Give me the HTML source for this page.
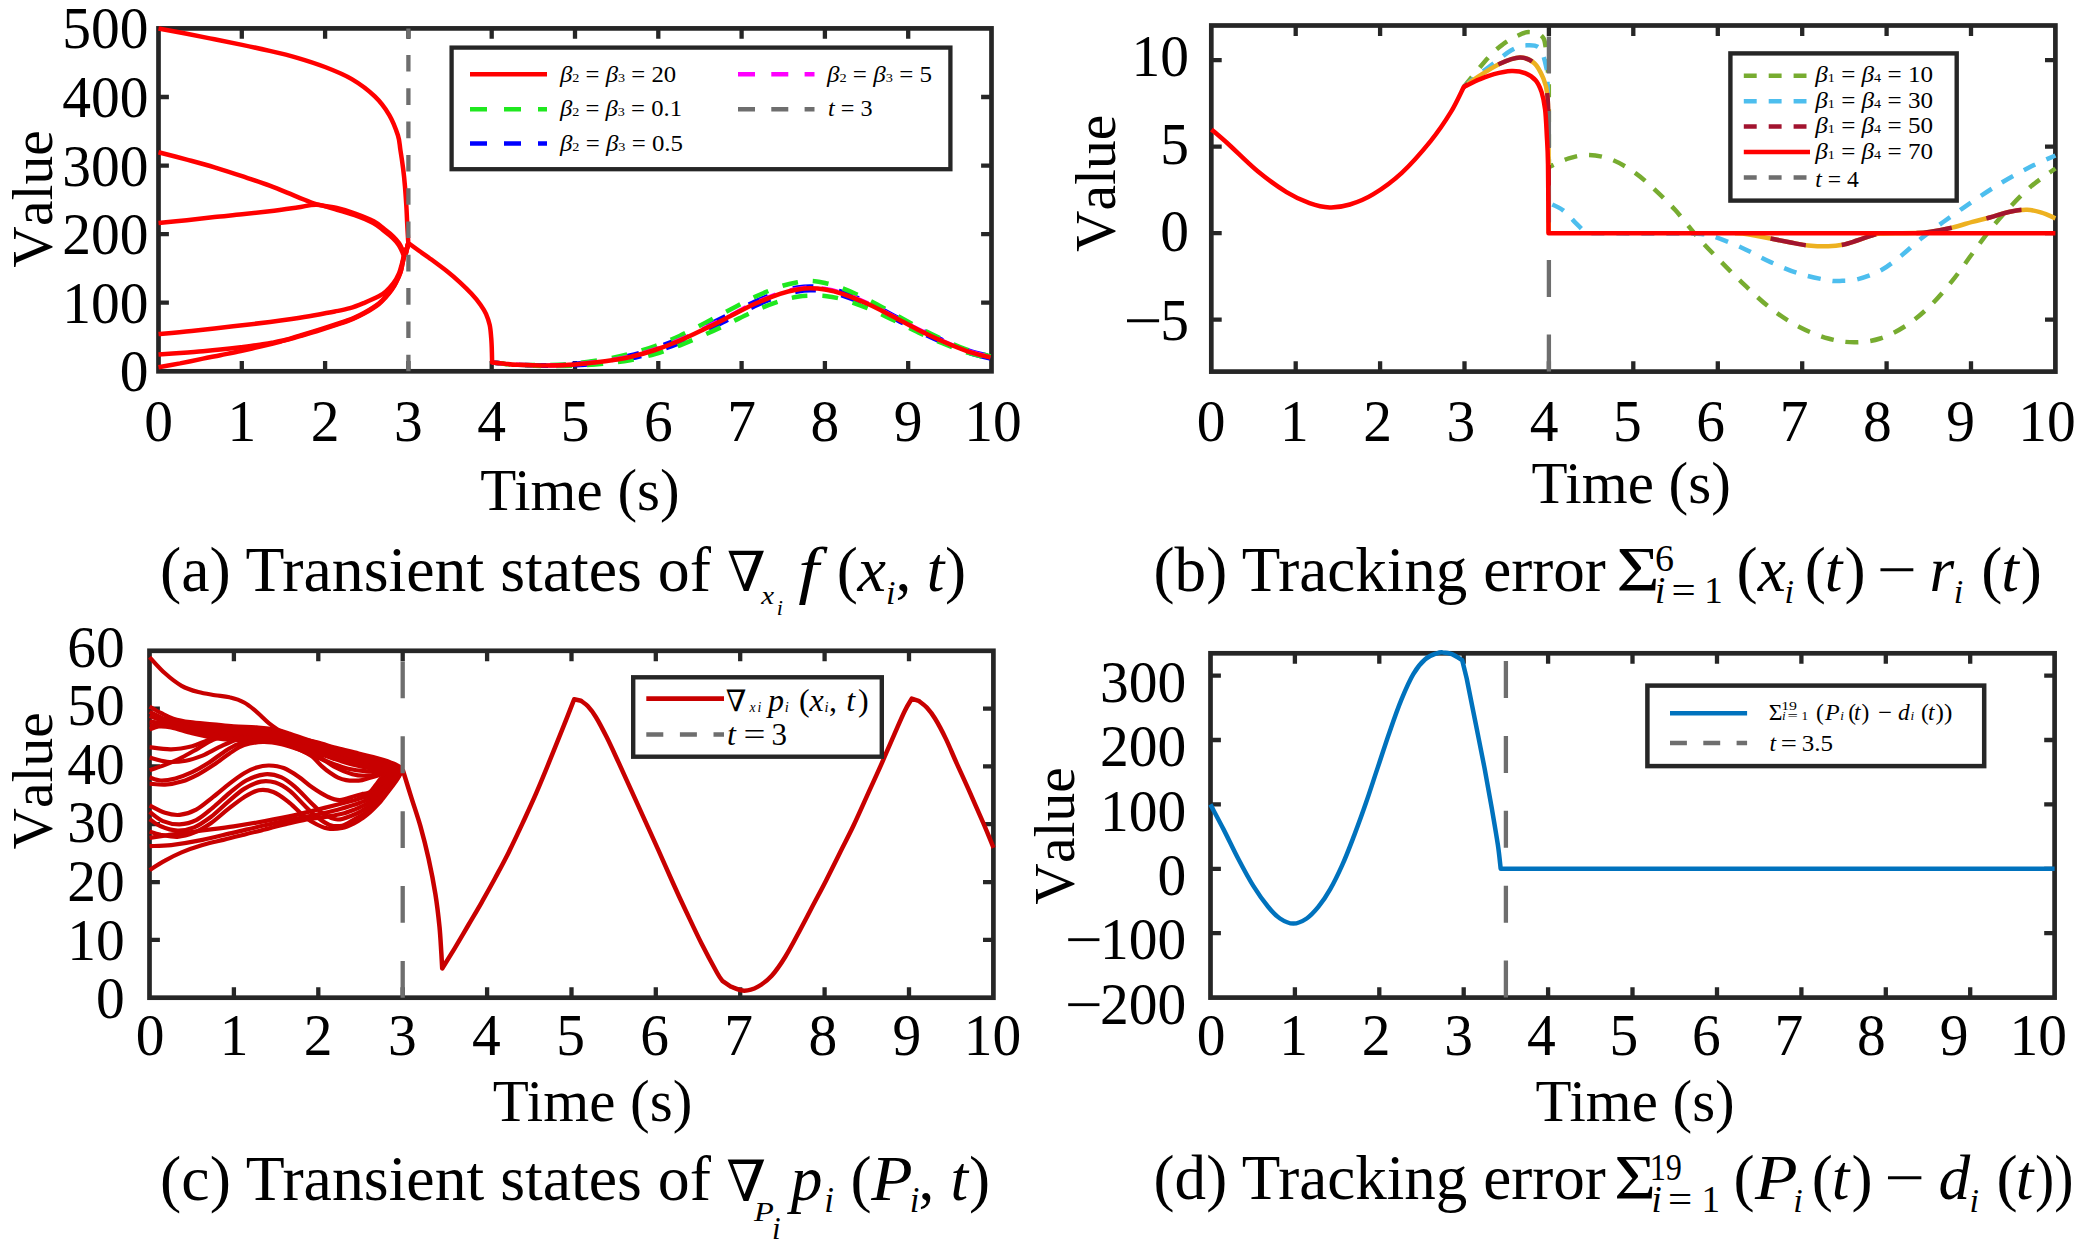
<!DOCTYPE html>
<html><head><meta charset="utf-8"><title>Figure</title>
<style>
html,body{margin:0;padding:0;background:#fff;}
svg{display:block;font-family:"Liberation Serif","DejaVu Serif",serif;fill:#000;}
</style></head><body>
<svg width="2079" height="1249" viewBox="0 0 2079 1249">
<rect width="2079" height="1249" fill="#fff"/>
<rect x="158.5" y="28.4" width="833.0" height="342.9" fill="none" stroke="#262626" stroke-width="4.7"/>
<path d="M241.8 371.3v-10.4M241.8 28.4v10.4M325.1 371.3v-10.4M325.1 28.4v10.4M408.4 371.3v-10.4M408.4 28.4v10.4M491.7 371.3v-10.4M491.7 28.4v10.4M575.0 371.3v-10.4M575.0 28.4v10.4M658.3 371.3v-10.4M658.3 28.4v10.4M741.6 371.3v-10.4M741.6 28.4v10.4M824.9 371.3v-10.4M824.9 28.4v10.4M908.2 371.3v-10.4M908.2 28.4v10.4M158.5 302.7h10.4M991.5 302.7h-10.4M158.5 234.1h10.4M991.5 234.1h-10.4M158.5 165.6h10.4M991.5 165.6h-10.4M158.5 97.0h10.4M991.5 97.0h-10.4" stroke="#262626" stroke-width="4.3" fill="none"/>
<clipPath id="clipA"><rect x="156.2" y="26.1" width="837.6" height="347.5"/></clipPath>
<g clip-path="url(#clipA)">
<path d="M492.2 362.5C494.3 362.7 500.8 363.4 505.0 363.8C509.2 364.1 510.4 364.4 517.5 364.7C524.6 364.9 537.9 365.3 547.5 365.2C557.1 365.0 565.4 364.6 575.0 363.8C584.6 362.9 595.8 361.4 605.0 360.0C614.2 358.6 621.7 357.4 630.0 355.4C638.3 353.4 646.7 350.9 655.0 348.0C663.3 345.2 671.7 341.8 680.0 338.2C688.3 334.6 696.7 330.3 705.0 326.3C713.3 322.3 721.7 318.1 730.0 313.9C738.3 309.8 746.7 305.3 755.0 301.6C763.3 297.9 772.9 294.1 780.0 291.7C787.1 289.4 792.5 288.4 797.5 287.5C802.5 286.7 805.4 286.4 810.0 286.4C814.6 286.5 819.6 286.8 825.0 287.7C830.4 288.7 835.4 289.7 842.5 292.1C849.6 294.5 859.2 298.5 867.5 302.2C875.8 306.0 884.2 310.6 892.5 314.9C900.8 319.2 909.2 324.0 917.5 328.2C925.8 332.4 934.2 336.4 942.5 340.1C950.8 343.7 959.5 347.4 967.5 350.1C975.5 352.9 986.7 355.4 990.5 356.4" fill="none" stroke="#0000FF" stroke-width="4.5" stroke-dasharray="21 26" stroke-linejoin="round" stroke-dashoffset="14"/>
<path d="M492.2 362.5C494.3 362.7 500.8 363.4 505.0 363.8C509.2 364.2 510.4 364.6 517.5 364.9C524.6 365.3 537.9 365.8 547.5 365.8C557.1 365.9 565.4 365.8 575.0 365.2C584.6 364.7 595.8 363.7 605.0 362.6C614.2 361.5 621.7 360.4 630.0 358.6C638.3 356.9 646.7 354.6 655.0 352.0C663.3 349.3 671.7 346.2 680.0 342.8C688.3 339.3 696.7 335.3 705.0 331.3C713.3 327.3 721.7 322.9 730.0 318.7C738.3 314.5 746.7 309.8 755.0 306.0C763.3 302.2 772.9 298.3 780.0 295.9C787.1 293.4 792.5 292.4 797.5 291.5C802.5 290.5 805.4 290.2 810.0 290.2C814.6 290.1 819.6 290.4 825.0 291.3C830.4 292.2 835.4 293.1 842.5 295.5C849.6 297.8 859.2 301.6 867.5 305.4C875.8 309.1 884.2 313.5 892.5 317.7C900.8 322.0 909.2 326.7 917.5 330.8C925.8 335.0 934.2 338.9 942.5 342.5C950.8 346.2 959.5 349.8 967.5 352.5C975.5 355.1 986.7 357.6 990.5 358.6" fill="none" stroke="#0000FF" stroke-width="4.5" stroke-dasharray="21 26" stroke-linejoin="round" stroke-dashoffset="12"/>
<path d="M492.2 362.5C494.3 362.7 500.8 363.4 505.0 363.8C509.2 364.1 510.4 364.4 517.5 364.6C524.6 364.8 537.9 365.2 547.5 365.0C557.1 364.8 565.4 364.4 575.0 363.4C584.6 362.4 595.8 360.7 605.0 359.1C614.2 357.5 621.7 356.0 630.0 353.8C638.3 351.6 646.7 349.0 655.0 346.0C663.3 343.0 671.7 339.5 680.0 335.7C688.3 331.8 696.7 327.3 705.0 323.0C713.3 318.7 721.7 314.1 730.0 309.7C738.3 305.3 746.7 300.7 755.0 296.8C763.3 293.0 772.9 289.0 780.0 286.6C787.1 284.1 792.5 283.1 797.5 282.2C802.5 281.2 805.4 280.8 810.0 280.9C814.6 281.0 819.6 281.7 825.0 283.0C830.4 284.2 835.4 285.5 842.5 288.3C849.6 291.0 859.2 295.3 867.5 299.4C875.8 303.5 884.2 308.3 892.5 312.9C900.8 317.5 909.2 322.5 917.5 327.0C925.8 331.4 934.2 335.5 942.5 339.4C950.8 343.2 959.5 347.1 967.5 349.9C975.5 352.8 986.7 355.4 990.5 356.5" fill="none" stroke="#1FE81F" stroke-width="4.5" stroke-dasharray="16 15" stroke-linejoin="round" stroke-dashoffset="4"/>
<path d="M492.2 362.5C494.3 362.7 500.8 363.4 505.0 363.9C509.2 364.3 510.4 364.6 517.5 365.0C524.6 365.3 537.9 365.9 547.5 366.0C557.1 366.1 565.4 366.0 575.0 365.6C584.6 365.2 595.8 364.4 605.0 363.5C614.2 362.6 621.7 361.8 630.0 360.2C638.3 358.6 646.7 356.5 655.0 354.0C663.3 351.5 671.7 348.6 680.0 345.3C688.3 342.1 696.7 338.3 705.0 334.6C713.3 330.9 721.7 326.9 730.0 322.9C738.3 318.9 746.7 314.4 755.0 310.8C763.3 307.1 772.9 303.4 780.0 301.1C787.1 298.7 792.5 297.7 797.5 296.8C802.5 295.9 805.4 295.8 810.0 295.7C814.6 295.6 819.6 295.4 825.0 296.0C830.4 296.6 835.4 297.3 842.5 299.3C849.6 301.3 859.2 304.8 867.5 308.2C875.8 311.6 884.2 315.7 892.5 319.7C900.8 323.7 909.2 328.1 917.5 332.0C925.8 336.0 934.2 339.8 942.5 343.2C950.8 346.7 959.5 350.1 967.5 352.7C975.5 355.2 986.7 357.5 990.5 358.5" fill="none" stroke="#1FE81F" stroke-width="4.5" stroke-dasharray="16 15" stroke-linejoin="round" stroke-dashoffset="-2"/>
<path d="M492.2 362.5C494.3 362.7 500.8 363.4 505.0 363.8C509.2 364.2 510.4 364.5 517.5 364.8C524.6 365.0 537.9 365.5 547.5 365.4C557.1 365.3 565.4 365.0 575.0 364.3C584.6 363.6 595.8 362.2 605.0 361.0C614.2 359.7 621.7 358.5 630.0 356.6C638.3 354.6 646.7 352.2 655.0 349.5C663.3 346.7 671.7 343.4 680.0 339.9C688.3 336.3 696.7 332.2 705.0 328.1C713.3 324.1 721.7 319.8 730.0 315.7C738.3 311.5 746.7 306.9 755.0 303.2C763.3 299.5 772.9 295.6 780.0 293.2C787.1 290.9 792.5 289.9 797.5 289.0C802.5 288.1 805.4 287.8 810.0 287.8C814.6 287.8 819.6 288.1 825.0 289.0C830.4 289.9 835.4 290.9 842.5 293.3C849.6 295.7 859.2 299.6 867.5 303.4C875.8 307.1 884.2 311.6 892.5 315.9C900.8 320.2 909.2 325.0 917.5 329.1C925.8 333.3 934.2 337.3 942.5 341.0C950.8 344.6 959.5 348.3 967.5 351.0C975.5 353.7 986.7 356.2 990.5 357.2" fill="none" stroke="#FF00FF" stroke-width="4.5" stroke-dasharray="17 15" stroke-linejoin="round" stroke-dashoffset="8"/>
</g>
<path d="M158.5 152.2C163.2 153.4 177.5 157.1 186.8 159.6C196.1 162.1 205.3 164.5 214.5 167.3C223.7 170.1 232.9 173.1 242.1 176.2C251.3 179.3 260.5 182.3 269.7 185.7C278.9 189.1 289.4 193.7 297.3 196.8C305.2 199.9 310.4 202.4 317.0 204.3C323.6 206.2 330.4 206.5 336.8 208.0C343.2 209.5 349.1 211.3 355.2 213.5C361.3 215.7 368.8 218.7 373.7 221.3C378.6 223.9 381.3 226.8 384.6 229.3C387.9 231.8 390.9 234.2 393.3 236.5C395.7 238.8 397.4 240.8 399.0 243.0C400.6 245.2 401.7 248.1 402.6 250.0C403.5 251.9 404.0 254.1 404.6 254.5C405.2 254.9 405.9 252.8 406.2 252.5L407.4 247.0L408.3 243.0" fill="none" stroke="#FF0000" stroke-width="4.5" stroke-linejoin="round" />
<path d="M158.5 223.1C163.2 222.6 177.5 221.2 186.8 220.2C196.1 219.2 205.3 218.0 214.5 217.0C223.7 216.0 232.9 215.3 242.1 214.3C251.3 213.3 260.5 212.3 269.7 211.2C278.9 210.1 289.4 208.6 297.3 207.5C305.2 206.4 310.5 204.3 317.0 204.7C323.5 205.0 330.0 207.9 336.3 209.6C342.6 211.3 348.6 212.9 354.7 215.1C360.8 217.3 368.3 220.3 373.2 222.9C378.1 225.5 380.8 228.4 384.1 230.9C387.4 233.4 390.4 235.8 392.8 238.1C395.2 240.4 396.9 242.3 398.5 244.6C400.1 246.8 401.2 249.7 402.1 251.6C403.0 253.5 403.4 256.0 404.1 256.1C404.8 256.2 405.9 253.1 406.2 252.5L407.4 247.0L408.3 243.0" fill="none" stroke="#FF0000" stroke-width="4.5" stroke-linejoin="round" />
<path d="M158.5 334.1C164.0 333.6 179.2 332.3 191.6 331.0C204.0 329.7 220.1 327.8 233.2 326.3C246.3 324.8 260.3 323.2 270.0 322.0C279.7 320.8 284.4 320.1 291.6 319.0C298.8 317.9 306.0 316.8 313.2 315.5C320.4 314.2 328.7 312.7 334.8 311.5C340.9 310.3 345.1 309.6 350.0 308.2C354.9 306.8 359.6 304.8 364.4 302.8C369.2 300.8 375.2 298.2 378.8 296.3C382.4 294.4 383.6 293.5 386.0 291.3C388.4 289.1 391.1 286.4 393.3 283.4C395.5 280.4 397.6 276.6 399.0 273.3C400.4 270.1 401.1 266.7 401.9 263.9C402.7 261.1 403.1 258.6 403.7 256.5C404.3 254.3 405.2 251.9 405.5 251.0L407.4 247.0L408.3 243.0" fill="none" stroke="#FF0000" stroke-width="4.5" stroke-linejoin="round" />
<path d="M158.5 354.4C162.1 354.1 172.6 353.4 180.0 352.9C187.4 352.4 196.3 351.8 203.0 351.2C209.7 350.6 214.1 350.2 220.4 349.6C226.7 349.0 234.5 348.1 240.8 347.3C247.1 346.5 252.8 345.8 258.0 345.0C263.2 344.2 267.3 343.7 272.0 342.8C276.7 341.9 281.0 341.1 286.0 339.8C291.0 338.5 296.0 336.9 302.1 335.0C308.2 333.1 316.2 330.7 322.5 328.7C328.8 326.7 334.9 324.7 340.0 323.0C345.1 321.3 348.9 320.0 353.0 318.3C357.1 316.6 360.1 315.3 364.4 312.8C368.7 310.3 375.2 306.2 378.8 303.5C382.4 300.8 383.8 298.7 386.0 296.3C388.2 293.9 390.1 291.5 391.8 289.1C393.5 286.7 394.7 284.8 396.1 281.9C397.6 279.0 399.4 274.9 400.5 271.8C401.6 268.7 401.9 266.1 402.5 263.5C403.1 260.9 403.5 258.6 404.0 256.5C404.5 254.4 405.2 251.9 405.5 251.0L407.4 247.0L408.3 243.0" fill="none" stroke="#FF0000" stroke-width="4.5" stroke-linejoin="round" />
<path d="M158.5 367.3C162.1 366.6 172.6 364.8 180.0 363.4C187.4 361.9 196.3 360.0 203.0 358.6C209.7 357.2 214.1 356.5 220.4 355.2C226.7 353.9 234.0 352.5 240.8 351.0C247.6 349.5 254.5 347.9 261.3 346.3C268.1 344.7 274.9 343.0 281.7 341.2C288.5 339.4 295.3 337.6 302.1 335.6C308.9 333.6 316.2 331.3 322.5 329.3C328.8 327.3 334.9 325.3 340.0 323.6C345.1 321.9 348.9 320.6 353.0 318.9C357.1 317.2 360.1 315.9 364.4 313.4C368.7 310.9 375.2 306.9 378.8 304.1C382.4 301.4 383.8 299.3 386.0 296.9C388.2 294.5 390.1 292.1 391.8 289.7C393.5 287.3 394.7 285.4 396.1 282.5C397.6 279.6 399.4 275.6 400.5 272.4C401.6 269.2 401.9 266.1 402.5 263.5C403.1 260.9 403.5 258.6 404.0 256.5C404.5 254.4 405.2 251.9 405.5 251.0L407.4 247.0L408.3 243.0" fill="none" stroke="#FF0000" stroke-width="4.5" stroke-linejoin="round" />
<path d="M158.5 28.5C163.2 29.4 177.5 32.0 186.8 33.8C196.1 35.6 205.3 37.4 214.5 39.3C223.7 41.1 232.9 43.0 242.1 44.9C251.3 46.8 260.5 48.8 269.7 50.9C278.9 53.0 288.1 55.1 297.3 57.8C306.5 60.5 315.9 63.5 325.0 67.0C334.1 70.5 343.5 74.2 351.8 79.1C360.1 84.0 368.6 90.4 374.8 96.4C381.1 102.4 385.5 108.6 389.3 115.1C393.1 121.6 396.0 129.5 397.9 135.3C399.8 141.1 399.5 144.5 400.4 150.0C401.3 155.5 402.3 162.3 403.1 168.4C403.9 174.5 404.5 180.7 405.0 186.8C405.5 192.9 405.9 199.0 406.3 205.2C406.7 211.3 406.9 217.4 407.2 223.7C407.5 230.0 408.1 239.8 408.3 243.0L419.7 251.3C421.2 252.4 424.3 254.3 428.9 257.7C433.5 261.1 442.1 267.4 447.3 271.5C452.5 275.6 456.2 278.9 460.2 282.6C464.2 286.3 467.9 289.9 471.3 293.6C474.7 297.3 478.1 301.3 480.5 304.7C482.9 308.1 484.5 310.5 486.0 313.9C487.5 317.3 488.8 321.0 489.7 325.0C490.6 329.0 490.8 333.2 491.2 337.8C491.6 342.4 491.8 348.5 491.9 352.6C492.0 356.7 492.1 360.9 492.1 362.5L492.2 362.5C494.3 362.7 500.8 363.4 505.0 363.8C509.2 364.2 510.4 364.5 517.5 364.8C524.6 365.1 537.9 365.6 547.5 365.5C557.1 365.4 565.4 365.2 575.0 364.5C584.6 363.8 595.8 362.6 605.0 361.3C614.2 360.1 621.7 358.9 630.0 357.0C638.3 355.1 646.7 352.8 655.0 350.0C663.3 347.2 671.7 344.0 680.0 340.5C688.3 337.0 696.7 332.8 705.0 328.8C713.3 324.8 721.7 320.5 730.0 316.3C738.3 312.1 746.7 307.6 755.0 303.8C763.3 300.1 772.9 296.2 780.0 293.8C787.1 291.4 792.5 290.4 797.5 289.5C802.5 288.6 805.4 288.3 810.0 288.3C814.6 288.3 819.6 288.6 825.0 289.5C830.4 290.4 835.4 291.4 842.5 293.8C849.6 296.2 859.2 300.1 867.5 303.8C875.8 307.6 884.2 312.0 892.5 316.3C900.8 320.6 909.2 325.3 917.5 329.5C925.8 333.7 934.2 337.7 942.5 341.3C950.8 344.9 959.5 348.6 967.5 351.3C975.5 354.0 986.7 356.5 990.5 357.5" fill="none" stroke="#FF0000" stroke-width="4.5" stroke-linejoin="round" />
<path d="M408.4 371.3V28.4" fill="none" stroke="#6E6E6E" stroke-width="4.3" stroke-dasharray="16.6 16.7" stroke-linejoin="round" />
<text transform="translate(158.5 440.6) scale(1 1.024)" font-size="57.5" text-anchor="middle">0</text>
<text transform="translate(241.8 440.6) scale(1 1.024)" font-size="57.5" text-anchor="middle">1</text>
<text transform="translate(325.1 440.6) scale(1 1.024)" font-size="57.5" text-anchor="middle">2</text>
<text transform="translate(408.4 440.6) scale(1 1.024)" font-size="57.5" text-anchor="middle">3</text>
<text transform="translate(491.7 440.6) scale(1 1.024)" font-size="57.5" text-anchor="middle">4</text>
<text transform="translate(575.0 440.6) scale(1 1.024)" font-size="57.5" text-anchor="middle">5</text>
<text transform="translate(658.3 440.6) scale(1 1.024)" font-size="57.5" text-anchor="middle">6</text>
<text transform="translate(741.6 440.6) scale(1 1.024)" font-size="57.5" text-anchor="middle">7</text>
<text transform="translate(824.9 440.6) scale(1 1.024)" font-size="57.5" text-anchor="middle">8</text>
<text transform="translate(908.2 440.6) scale(1 1.024)" font-size="57.5" text-anchor="middle">9</text>
<text transform="translate(993.1 440.6) scale(1 1.024)" font-size="57.5" text-anchor="middle">10</text>
<text transform="translate(148.5 391.3) scale(1 1.024)" font-size="57.5" text-anchor="end">0</text>
<text transform="translate(148.5 322.7) scale(1 1.024)" font-size="57.5" text-anchor="end">100</text>
<text transform="translate(148.5 254.1) scale(1 1.024)" font-size="57.5" text-anchor="end">200</text>
<text transform="translate(148.5 185.6) scale(1 1.024)" font-size="57.5" text-anchor="end">300</text>
<text transform="translate(148.5 117.0) scale(1 1.024)" font-size="57.5" text-anchor="end">400</text>
<text transform="translate(148.5 48.4) scale(1 1.024)" font-size="57.5" text-anchor="end">500</text>
<text x="480.3" y="510.0" font-size="58.6" text-anchor="start"  textLength="199.32" lengthAdjust="spacingAndGlyphs">Time (s)</text>
<text transform="translate(52.1,199.0) rotate(-90)" font-size="57.5" text-anchor="middle" style="font-kerning:none">Value</text>
<rect x="451.6" y="47.6" width="498.8" height="121.6" fill="#fff" stroke="#262626" stroke-width="4.3"/>
<path d="M470 74.3H547" fill="none" stroke="#FF0000" stroke-width="4.5" stroke-linejoin="round" />
<path d="M470 109.3H547" fill="none" stroke="#1FE81F" stroke-width="4.5" stroke-dasharray="17 17" stroke-linejoin="round" />
<path d="M470 143.5H547" fill="none" stroke="#0000FF" stroke-width="4.5" stroke-dasharray="17 17" stroke-linejoin="round" />
<path d="M738 74.3H814.5" fill="none" stroke="#FF00FF" stroke-width="4.5" stroke-dasharray="17 16.3" stroke-linejoin="round" />
<path d="M738 109.3H814.5" fill="none" stroke="#6E6E6E" stroke-width="4.5" stroke-dasharray="17 16.3" stroke-linejoin="round" />
<text x="560.0" y="82.0" font-size="22.3" textLength="116.2" lengthAdjust="spacingAndGlyphs" xml:space="preserve"><tspan font-style="italic">β</tspan><tspan font-size="12.8">2</tspan> = <tspan font-style="italic">β</tspan><tspan font-size="12.8">3</tspan> = 20</text>
<text x="560.0" y="116.3" font-size="22.3" textLength="122.0" lengthAdjust="spacingAndGlyphs" xml:space="preserve"><tspan font-style="italic">β</tspan><tspan font-size="12.8">2</tspan> = <tspan font-style="italic">β</tspan><tspan font-size="12.8">3</tspan> = 0.1</text>
<text x="560.0" y="150.5" font-size="22.3" textLength="123.0" lengthAdjust="spacingAndGlyphs" xml:space="preserve"><tspan font-style="italic">β</tspan><tspan font-size="12.8">2</tspan> = <tspan font-style="italic">β</tspan><tspan font-size="12.8">3</tspan> = 0.5</text>
<text x="827.0" y="82.0" font-size="22.3" textLength="105.0" lengthAdjust="spacingAndGlyphs" xml:space="preserve"><tspan font-style="italic">β</tspan><tspan font-size="12.8">2</tspan> = <tspan font-style="italic">β</tspan><tspan font-size="12.8">3</tspan> = 5</text>
<text x="828.0" y="116.3" font-size="22.3" textLength="44.5" lengthAdjust="spacingAndGlyphs" xml:space="preserve"><tspan font-style="italic">t</tspan> = 3</text>
<text x="160.0" y="590.8" font-size="63.4" text-anchor="start"  textLength="550.99" lengthAdjust="spacingAndGlyphs">(a) Transient states of</text>
<text x="726.9" y="591.3" font-size="55.4" text-anchor="start" font-family="DejaVu Serif, serif" >∇</text>
<text x="761.2" y="603.6" font-size="25" text-anchor="start" font-style="italic"  textLength="12.86" lengthAdjust="spacingAndGlyphs">x</text>
<text x="776.8" y="615.1" font-size="22" text-anchor="start" font-style="italic" >i</text>
<text x="798.2" y="590.8" font-size="63.4" text-anchor="start" font-style="italic"  textLength="20.74" lengthAdjust="spacingAndGlyphs">f</text>
<text x="836.7" y="590.8" font-size="63.4" text-anchor="start" >(</text>
<text x="857.6" y="590.8" font-size="63.4" text-anchor="start" font-style="italic"  textLength="28.49" lengthAdjust="spacingAndGlyphs">x</text>
<text x="885.9" y="603.6" font-size="34" text-anchor="start" font-style="italic" >i</text>
<text x="895.5" y="590.8" font-size="63.4" text-anchor="start" >,</text>
<text x="926.8" y="590.8" font-size="63.4" text-anchor="start" font-style="italic" >t</text>
<text x="945.0" y="590.8" font-size="63.4" text-anchor="start" >)</text>
<rect x="1211.3" y="25.5" width="844.1" height="346.1" fill="none" stroke="#262626" stroke-width="4.7"/>
<path d="M1295.7 371.6v-10.4M1295.7 25.5v10.4M1380.1 371.6v-10.4M1380.1 25.5v10.4M1464.5 371.6v-10.4M1464.5 25.5v10.4M1548.9 371.6v-10.4M1548.9 25.5v10.4M1633.3 371.6v-10.4M1633.3 25.5v10.4M1717.8 371.6v-10.4M1717.8 25.5v10.4M1802.2 371.6v-10.4M1802.2 25.5v10.4M1886.6 371.6v-10.4M1886.6 25.5v10.4M1971.0 371.6v-10.4M1971.0 25.5v10.4M1211.3 319.7h10.4M2055.4 319.7h-10.4M1211.3 233.2h10.4M2055.4 233.2h-10.4M1211.3 146.6h10.4M2055.4 146.6h-10.4M1211.3 60.1h10.4M2055.4 60.1h-10.4" stroke="#262626" stroke-width="4.3" fill="none"/>
<clipPath id="clipB"><rect x="1209.0" y="23.2" width="848.7" height="350.7"/></clipPath>
<g clip-path="url(#clipB)">
<path d="M1463.8 86.9C1467.9 82.0 1481.8 64.6 1488.3 57.5C1494.8 50.4 1497.9 48.1 1502.7 44.5C1507.5 40.9 1512.8 38.0 1517.1 35.9C1521.4 33.8 1524.5 32.1 1528.6 32.1C1532.7 32.1 1538.7 33.1 1541.6 35.9C1544.5 38.7 1544.7 40.9 1545.9 48.8C1547.1 56.7 1548.3 77.6 1548.8 83.4L1548.9 167.0C1552.2 165.6 1562.1 160.4 1568.8 158.4C1575.5 156.4 1581.8 154.7 1589.0 154.9C1596.2 155.1 1604.4 156.8 1612.1 159.8C1619.8 162.8 1627.9 167.8 1635.1 172.8C1642.3 177.9 1648.6 183.8 1655.3 190.1C1662.0 196.3 1668.8 202.9 1675.5 210.3C1682.2 217.8 1689.5 227.6 1695.7 234.8C1702.0 242.0 1705.3 245.6 1713.0 253.5C1720.7 261.4 1732.2 273.2 1741.8 282.3C1751.4 291.4 1761.0 300.9 1770.6 308.3C1780.2 315.8 1789.8 322.0 1799.4 327.0C1809.0 332.0 1819.2 335.9 1828.3 338.5C1837.4 341.1 1845.5 342.3 1854.2 342.3C1862.9 342.3 1871.6 341.3 1880.2 338.5C1888.8 335.7 1897.9 330.9 1906.1 325.6C1914.3 320.3 1921.5 314.2 1929.2 306.8C1936.9 299.4 1945.0 289.8 1952.2 280.9C1959.4 272.0 1966.2 261.9 1972.4 253.5C1978.7 245.1 1983.9 237.6 1989.7 230.4C1995.5 223.2 2000.3 217.5 2007.0 210.3C2013.7 203.1 2021.9 194.2 2030.0 187.2C2038.1 180.2 2051.2 171.6 2055.4 168.5" fill="none" stroke="#77AC30" stroke-width="4.5" stroke-dasharray="13 12" stroke-linejoin="round" />
<path d="M1463.8 86.9C1466.0 85.1 1471.7 80.2 1476.7 76.2C1481.7 72.2 1488.2 67.5 1494.0 63.2C1499.8 58.9 1506.0 53.3 1511.3 50.3C1516.6 47.3 1520.9 45.6 1525.7 45.4C1530.5 45.1 1536.6 44.4 1540.2 48.8C1543.8 53.2 1546.2 68.1 1547.4 71.9L1548.9 203.0C1551.3 204.2 1558.8 207.2 1563.1 210.3C1567.4 213.4 1570.8 218.0 1574.6 221.8C1578.4 225.6 1584.2 231.4 1586.1 233.3L1690.0 233.5C1691.9 233.5 1697.6 233.4 1701.4 233.9C1705.2 234.4 1706.3 233.9 1713.0 236.2C1719.7 238.5 1732.2 243.4 1741.8 247.7C1751.4 252.0 1761.0 257.8 1770.6 262.1C1780.2 266.4 1789.8 270.7 1799.4 273.7C1809.0 276.7 1821.6 279.1 1828.3 280.3C1835.0 281.5 1835.0 281.0 1839.8 280.9C1844.6 280.8 1850.4 281.1 1857.1 279.4C1863.8 277.7 1873.0 274.6 1880.2 270.8C1887.4 267.0 1893.6 261.7 1900.3 256.4C1907.0 251.1 1913.3 244.9 1920.5 239.1C1927.7 233.3 1934.9 228.1 1943.6 221.8C1952.2 215.6 1962.8 208.1 1972.4 201.6C1982.0 195.1 1991.6 188.7 2001.2 182.9C2010.8 177.1 2021.0 171.6 2030.0 167.0C2039.0 162.4 2051.2 157.4 2055.4 155.5" fill="none" stroke="#4DBEEE" stroke-width="4.5" stroke-dasharray="13 12" stroke-linejoin="round" />
<path d="M1463.8 86.9C1466.0 85.4 1470.7 81.6 1476.7 77.7C1482.7 73.8 1492.6 67.2 1499.8 63.8C1507.0 60.4 1514.2 57.6 1520.0 57.5C1525.8 57.4 1530.6 59.8 1534.4 63.2C1538.2 66.6 1540.8 72.4 1543.0 77.7C1545.2 83.0 1546.5 85.4 1547.4 95.0C1548.3 104.6 1548.3 112.3 1548.5 135.3C1548.7 158.3 1548.8 216.8 1548.8 233.2" fill="none" stroke="#EDB120" stroke-width="4.5" stroke-linejoin="round" />
<path d="M1463.8 86.9C1466.0 85.4 1470.7 81.6 1476.7 77.7C1482.7 73.8 1492.6 67.2 1499.8 63.8C1507.0 60.4 1514.2 57.6 1520.0 57.5C1525.8 57.4 1530.6 59.8 1534.4 63.2C1538.2 66.6 1540.8 72.4 1543.0 77.7C1545.2 83.0 1546.5 85.4 1547.4 95.0C1548.3 104.6 1548.3 112.3 1548.5 135.3C1548.7 158.3 1548.8 216.8 1548.8 233.2" fill="none" stroke="#A2142F" stroke-width="4.5" stroke-dasharray="36 36" stroke-linejoin="round" stroke-dashoffset="31"/>
<path d="M1735.0 233.2C1737.1 233.3 1741.7 233.3 1747.6 234.2C1753.5 235.1 1763.4 237.1 1770.6 238.5C1777.8 239.9 1784.5 241.3 1790.8 242.5C1797.0 243.7 1801.8 244.8 1808.1 245.4C1814.3 246.0 1822.5 246.4 1828.3 246.3C1834.1 246.2 1837.9 245.8 1842.7 244.8C1847.5 243.8 1852.3 242.0 1857.1 240.5C1861.9 239.0 1867.7 236.8 1871.5 235.6C1875.3 234.4 1876.3 234.0 1880.2 233.6C1884.1 233.2 1892.5 233.2 1895.0 233.2" fill="none" stroke="#EDB120" stroke-width="4.5" stroke-linejoin="round" />
<path d="M1735.0 233.2C1737.1 233.3 1741.7 233.3 1747.6 234.2C1753.5 235.1 1763.4 237.1 1770.6 238.5C1777.8 239.9 1784.5 241.3 1790.8 242.5C1797.0 243.7 1801.8 244.8 1808.1 245.4C1814.3 246.0 1822.5 246.4 1828.3 246.3C1834.1 246.2 1837.9 245.8 1842.7 244.8C1847.5 243.8 1852.3 242.0 1857.1 240.5C1861.9 239.0 1867.7 236.8 1871.5 235.6C1875.3 234.4 1876.3 234.0 1880.2 233.6C1884.1 233.2 1892.5 233.2 1895.0 233.2" fill="none" stroke="#A2142F" stroke-width="4.5" stroke-dasharray="36 36" stroke-linejoin="round" stroke-dashoffset="36"/>
<path d="M1895.0 233.2C1898.3 233.1 1909.0 233.2 1914.7 233.0C1920.4 232.8 1923.0 232.8 1929.2 231.9C1935.5 231.0 1945.0 229.3 1952.2 227.6C1959.4 225.9 1966.2 223.5 1972.4 221.8C1978.7 220.1 1983.5 219.2 1989.7 217.5C1996.0 215.8 2003.7 213.0 2009.9 211.7C2016.2 210.4 2021.9 209.5 2027.2 209.7C2032.5 209.8 2036.9 211.2 2041.6 212.6C2046.3 214.0 2053.1 217.4 2055.4 218.3" fill="none" stroke="#EDB120" stroke-width="4.5" stroke-linejoin="round" />
<path d="M1895.0 233.2C1898.3 233.1 1909.0 233.2 1914.7 233.0C1920.4 232.8 1923.0 232.8 1929.2 231.9C1935.5 231.0 1945.0 229.3 1952.2 227.6C1959.4 225.9 1966.2 223.5 1972.4 221.8C1978.7 220.1 1983.5 219.2 1989.7 217.5C1996.0 215.8 2003.7 213.0 2009.9 211.7C2016.2 210.4 2021.9 209.5 2027.2 209.7C2032.5 209.8 2036.9 211.2 2041.6 212.6C2046.3 214.0 2053.1 217.4 2055.4 218.3" fill="none" stroke="#A2142F" stroke-width="4.5" stroke-dasharray="36 36" stroke-linejoin="round" stroke-dashoffset="50.8"/>
<path d="M1548.9 371.6V25.5" fill="none" stroke="#6E6E6E" stroke-width="4.3" stroke-dasharray="37 37.5" stroke-linejoin="round" />
<path d="M1211.5 129.5C1214.4 132.0 1221.1 137.5 1228.8 144.5C1236.5 151.5 1248.1 163.4 1257.7 171.3C1267.3 179.2 1277.9 186.8 1286.5 192.1C1295.1 197.4 1302.3 200.5 1309.5 203.1C1316.7 205.7 1323.0 207.2 1329.7 207.4C1336.4 207.6 1342.7 206.7 1349.9 204.5C1357.1 202.3 1364.3 199.7 1373.0 194.4C1381.7 189.1 1392.2 181.7 1401.8 172.8C1411.4 163.9 1422.4 151.2 1430.6 141.1C1438.8 131.0 1445.3 121.2 1450.8 112.2C1456.3 103.2 1461.6 91.1 1463.8 86.9L1476.7 80.5C1479.6 79.5 1488.2 75.8 1494.0 74.2C1499.8 72.6 1506.0 71.2 1511.3 71.0C1516.6 70.8 1521.6 71.7 1525.7 73.3C1529.8 74.9 1533.2 77.4 1535.8 80.5C1538.4 83.6 1540.0 87.3 1541.6 92.1C1543.1 96.9 1544.2 102.2 1545.1 109.4C1546.0 116.6 1546.3 126.2 1546.8 135.3C1547.3 144.4 1547.7 147.8 1548.0 164.1C1548.3 180.4 1548.4 221.7 1548.5 233.2L1548.5 233.2L2055.4 233.2" fill="none" stroke="#FF0000" stroke-width="4.5" stroke-linejoin="round" />
</g>
<text transform="translate(1211.1 440.6) scale(1 1.024)" font-size="57.5" text-anchor="middle">0</text>
<text transform="translate(1294.4 440.6) scale(1 1.024)" font-size="57.5" text-anchor="middle">1</text>
<text transform="translate(1377.6 440.6) scale(1 1.024)" font-size="57.5" text-anchor="middle">2</text>
<text transform="translate(1460.9 440.6) scale(1 1.024)" font-size="57.5" text-anchor="middle">3</text>
<text transform="translate(1544.2 440.6) scale(1 1.024)" font-size="57.5" text-anchor="middle">4</text>
<text transform="translate(1627.4 440.6) scale(1 1.024)" font-size="57.5" text-anchor="middle">5</text>
<text transform="translate(1710.7 440.6) scale(1 1.024)" font-size="57.5" text-anchor="middle">6</text>
<text transform="translate(1794.0 440.6) scale(1 1.024)" font-size="57.5" text-anchor="middle">7</text>
<text transform="translate(1877.3 440.6) scale(1 1.024)" font-size="57.5" text-anchor="middle">8</text>
<text transform="translate(1960.5 440.6) scale(1 1.024)" font-size="57.5" text-anchor="middle">9</text>
<text transform="translate(2047.0 440.6) scale(1 1.024)" font-size="57.5" text-anchor="middle">10</text>
<text transform="translate(1189.0 76.0) scale(1 1.024)" font-size="57.5" text-anchor="end">10</text>
<text transform="translate(1189.0 163.7) scale(1 1.024)" font-size="57.5" text-anchor="end">5</text>
<text transform="translate(1189.0 251.1) scale(1 1.024)" font-size="57.5" text-anchor="end">0</text>
<text transform="translate(1189.0 339.5) scale(1 1.024)" font-size="57.5" text-anchor="end">5</text>
<text x="1123.4" y="339.5" font-size="57.5" text-anchor="start"  textLength="38.90" lengthAdjust="spacingAndGlyphs">−</text>
<text x="1531.4" y="503.1" font-size="58.6" text-anchor="start"  textLength="199.52" lengthAdjust="spacingAndGlyphs">Time (s)</text>
<text transform="translate(1114.9,183.3) rotate(-90)" font-size="57.5" text-anchor="middle" style="font-kerning:none">Value</text>
<rect x="1730.4" y="53.4" width="226.3" height="147.2" fill="#fff" stroke="#262626" stroke-width="4.4"/>
<path d="M1743.8 75.7H1806.6" fill="none" stroke="#77AC30" stroke-width="4.5" stroke-dasharray="12.9 12" stroke-linejoin="round" />
<path d="M1743.8 101.2H1806.6" fill="none" stroke="#4DBEEE" stroke-width="4.5" stroke-dasharray="12.9 12" stroke-linejoin="round" />
<path d="M1743.8 126.5H1806.6" fill="none" stroke="#A2142F" stroke-width="4.5" stroke-dasharray="12.9 12" stroke-linejoin="round" />
<path d="M1743.8 152.1H1810" fill="none" stroke="#FF0000" stroke-width="4.5" stroke-linejoin="round" />
<path d="M1743.8 177.6H1806.6" fill="none" stroke="#6E6E6E" stroke-width="4.5" stroke-dasharray="12.9 12" stroke-linejoin="round" />
<text x="1815.3" y="82.3" font-size="23.2" textLength="117.7" lengthAdjust="spacingAndGlyphs" xml:space="preserve"><tspan font-style="italic">β</tspan><tspan font-size="13">1</tspan> = <tspan font-style="italic">β</tspan><tspan font-size="13">4</tspan> = 10</text>
<text x="1815.3" y="107.7" font-size="23.2" textLength="117.7" lengthAdjust="spacingAndGlyphs" xml:space="preserve"><tspan font-style="italic">β</tspan><tspan font-size="13">1</tspan> = <tspan font-style="italic">β</tspan><tspan font-size="13">4</tspan> = 30</text>
<text x="1815.3" y="133.2" font-size="23.2" textLength="117.7" lengthAdjust="spacingAndGlyphs" xml:space="preserve"><tspan font-style="italic">β</tspan><tspan font-size="13">1</tspan> = <tspan font-style="italic">β</tspan><tspan font-size="13">4</tspan> = 50</text>
<text x="1815.3" y="158.8" font-size="23.2" textLength="117.7" lengthAdjust="spacingAndGlyphs" xml:space="preserve"><tspan font-style="italic">β</tspan><tspan font-size="13">1</tspan> = <tspan font-style="italic">β</tspan><tspan font-size="13">4</tspan> = 70</text>
<text x="1815.3" y="187.2" font-size="23.2" textLength="43.5" lengthAdjust="spacingAndGlyphs" xml:space="preserve"><tspan font-style="italic">t</tspan> = 4</text>
<text x="1153.6" y="590.7" font-size="63.4" text-anchor="start"  textLength="452.20" lengthAdjust="spacingAndGlyphs">(b) Tracking error</text>
<text x="1616.5" y="590.7" font-size="63.4" text-anchor="start"  textLength="43.12" lengthAdjust="spacingAndGlyphs">Σ</text>
<text x="1654.9" y="571.2" font-size="38" text-anchor="start" >6</text>
<text x="1654.9" y="603.4" font-size="37" text-anchor="start" font-style="italic" >i</text>
<text x="1671.4" y="603.4" font-size="37" text-anchor="start"  textLength="24.24" lengthAdjust="spacingAndGlyphs">=</text>
<text x="1704.3" y="603.4" font-size="37" text-anchor="start" >1</text>
<text x="1736.6" y="590.7" font-size="63.4" text-anchor="start" >(</text>
<text x="1757.8" y="590.7" font-size="63.4" text-anchor="start" font-style="italic" >x</text>
<text x="1784.5" y="603.4" font-size="34" text-anchor="start" font-style="italic" >i</text>
<text x="1804.8" y="590.7" font-size="63.4" text-anchor="start" >(</text>
<text x="1824.8" y="590.7" font-size="63.4" text-anchor="start" font-style="italic" >t</text>
<text x="1844.4" y="590.7" font-size="63.4" text-anchor="start" >)</text>
<text x="1877.0" y="590.7" font-size="63.4" text-anchor="start"  textLength="39.87" lengthAdjust="spacingAndGlyphs">−</text>
<text x="1929.6" y="590.7" font-size="63.4" text-anchor="start" font-style="italic" >r</text>
<text x="1953.8" y="603.4" font-size="34" text-anchor="start" font-style="italic" >i</text>
<text x="1981.2" y="590.7" font-size="63.4" text-anchor="start" >(</text>
<text x="2001.2" y="590.7" font-size="63.4" text-anchor="start" font-style="italic" >t</text>
<text x="2020.8" y="590.7" font-size="63.4" text-anchor="start" >)</text>
<rect x="149.5" y="650.8" width="843.9" height="346.9" fill="none" stroke="#262626" stroke-width="4.7"/>
<path d="M233.9 997.7v-10.4M233.9 650.8v10.4M318.3 997.7v-10.4M318.3 650.8v10.4M402.7 997.7v-10.4M402.7 650.8v10.4M487.1 997.7v-10.4M487.1 650.8v10.4M571.5 997.7v-10.4M571.5 650.8v10.4M655.8 997.7v-10.4M655.8 650.8v10.4M740.2 997.7v-10.4M740.2 650.8v10.4M824.6 997.7v-10.4M824.6 650.8v10.4M909.0 997.7v-10.4M909.0 650.8v10.4M149.5 939.9h10.4M993.4 939.9h-10.4M149.5 882.1h10.4M993.4 882.1h-10.4M149.5 824.2h10.4M993.4 824.2h-10.4M149.5 766.4h10.4M993.4 766.4h-10.4M149.5 708.6h10.4M993.4 708.6h-10.4" stroke="#262626" stroke-width="4.3" fill="none"/>
<path d="M149.6 657.1C152.1 659.8 159.6 668.5 165.0 673.3C170.3 678.1 176.1 682.7 181.6 685.8C187.2 688.9 192.7 690.5 198.3 692.1C203.8 693.6 209.7 694.3 215.0 695.2C220.2 696.0 224.7 696.0 229.5 697.3C234.4 698.5 239.6 700.0 244.1 702.5C248.6 704.9 252.4 708.4 256.6 711.8C260.8 715.3 264.9 720.0 269.1 723.3C273.3 726.6 276.7 729.2 281.6 731.6C286.4 734.0 292.3 736.1 298.2 737.9C304.1 739.7 310.4 740.7 317.0 742.4C323.6 744.2 330.9 746.4 337.8 748.3C344.7 750.1 351.7 751.7 358.6 753.5C365.6 755.2 373.5 757.0 379.4 758.7C385.3 760.4 390.1 762.0 394.0 763.7C397.9 765.3 401.3 767.8 402.8 768.7" fill="none" stroke="#C80000" stroke-width="4.2" stroke-linejoin="round" />
<path d="M149.6 706.6C151.5 707.7 156.9 710.9 160.8 712.9C164.8 714.9 168.5 717.1 173.3 718.7C178.2 720.3 183.4 721.3 190.0 722.2C196.6 723.2 205.6 723.6 212.9 724.3C220.2 725.0 226.4 725.9 233.7 726.4C241.0 726.9 249.7 726.9 256.6 727.4C263.5 728.0 269.8 728.5 275.3 729.5C280.9 730.6 284.7 732.0 289.9 733.7C295.1 735.4 300.3 737.4 306.6 739.5C312.8 741.6 320.4 744.1 327.4 746.2C334.3 748.3 341.3 750.1 348.2 752.0C355.1 753.9 362.1 755.7 369.0 757.6C376.0 759.6 384.2 762.0 389.8 763.9C395.5 765.7 400.6 767.9 402.8 768.7" fill="none" stroke="#C80000" stroke-width="4.2" stroke-linejoin="round" />
<path d="M149.6 711.8C151.8 712.9 158.3 716.3 162.9 718.1C167.6 719.8 172.3 721.0 177.5 722.2C182.7 723.5 187.9 724.5 194.1 725.4C200.4 726.2 208.0 726.8 215.0 727.4C221.9 728.1 228.5 728.7 235.8 729.1C243.1 729.5 251.7 729.4 258.7 729.9C265.6 730.5 271.5 731.4 277.4 732.7C283.3 733.9 288.5 735.7 294.1 737.4C299.6 739.2 304.5 741.1 310.7 743.1C317.0 745.0 324.6 747.3 331.5 749.3C338.5 751.3 345.4 753.1 352.4 754.9C359.3 756.8 366.6 758.6 373.2 760.3C379.8 762.1 387.0 764.2 391.9 765.5C396.9 766.9 400.9 768.1 402.8 768.7" fill="none" stroke="#C80000" stroke-width="4.2" stroke-linejoin="round" />
<path d="M149.6 716.0C151.5 716.7 156.5 718.9 160.8 720.2C165.1 721.4 169.8 722.1 175.4 723.3C180.9 724.4 187.5 725.9 194.1 727.0C200.7 728.1 207.7 729.2 215.0 729.9C222.2 730.7 230.2 731.2 237.9 731.6C245.5 732.1 253.5 731.9 260.8 732.7C268.0 733.4 275.3 734.7 281.6 736.2C287.8 737.7 292.3 739.8 298.2 741.6C304.1 743.4 310.4 745.2 317.0 747.2C323.6 749.2 330.9 751.6 337.8 753.5C344.7 755.4 351.7 757.0 358.6 758.7C365.6 760.3 373.5 761.9 379.4 763.3C385.3 764.6 390.1 765.7 394.0 766.6C397.9 767.5 401.3 768.3 402.8 768.7" fill="none" stroke="#C80000" stroke-width="4.2" stroke-linejoin="round" />
<path d="M149.6 721.2C151.5 721.5 156.2 722.5 160.8 723.3C165.5 724.0 171.2 724.7 177.5 725.8C183.7 726.8 191.4 728.4 198.3 729.5C205.2 730.7 212.2 731.9 219.1 732.7C226.1 733.4 232.7 733.7 239.9 734.1C247.2 734.6 255.6 734.5 262.8 735.4C270.1 736.3 277.1 737.9 283.7 739.5C290.3 741.2 296.2 743.3 302.4 745.1C308.6 747.0 314.5 748.9 321.1 750.8C327.7 752.7 335.0 754.9 342.0 756.6C348.9 758.3 356.2 759.8 362.8 761.2C369.4 762.6 374.9 763.7 381.5 764.9C388.2 766.2 399.2 768.0 402.8 768.7" fill="none" stroke="#C80000" stroke-width="4.2" stroke-linejoin="round" />
<path d="M149.6 725.4C151.5 725.3 156.2 724.6 160.8 724.9C165.5 725.3 171.2 726.3 177.5 727.4C183.7 728.6 191.4 730.7 198.3 732.0C205.2 733.3 212.2 734.6 219.1 735.4C226.1 736.2 232.3 736.4 239.9 736.8C247.6 737.2 257.3 736.9 264.9 737.9C272.6 738.8 278.8 740.5 285.7 742.4C292.7 744.3 299.6 747.1 306.6 749.3C313.5 751.5 320.4 753.7 327.4 755.6C334.3 757.4 341.3 758.9 348.2 760.3C355.1 761.8 362.8 763.0 369.0 764.1C375.3 765.1 380.1 765.8 385.7 766.6C391.3 767.4 399.9 768.3 402.8 768.7" fill="none" stroke="#C80000" stroke-width="4.2" stroke-linejoin="round" />
<path d="M149.6 729.5C151.1 729.0 155.1 726.8 158.7 726.4C162.3 726.1 165.7 726.3 171.2 727.4C176.8 728.6 185.1 731.5 192.1 733.3C199.0 735.0 205.9 736.7 212.9 737.9C219.8 739.0 226.4 739.6 233.7 739.9C241.0 740.3 249.3 739.6 256.6 739.9C263.9 740.3 271.2 740.8 277.4 742.0C283.7 743.2 288.5 745.0 294.1 747.2C299.6 749.5 306.1 752.4 310.7 755.6C315.4 758.7 318.7 763.5 322.0 766.4C325.2 769.3 327.4 771.0 330.1 772.8C332.8 774.7 335.3 776.4 338.0 777.6C340.7 778.8 343.4 779.6 346.1 780.1C348.8 780.6 351.4 780.7 354.0 780.7C356.7 780.7 359.5 780.6 362.2 780.1C364.8 779.6 367.4 778.6 370.1 777.8C372.7 777.1 375.4 776.3 378.0 775.5C380.6 774.8 382.8 774.0 385.7 773.3C388.5 772.5 392.2 771.5 395.0 770.8C397.9 770.0 401.5 769.0 402.8 768.7" fill="none" stroke="#C80000" stroke-width="4.2" stroke-linejoin="round" />
<path d="M149.6 747.2C153.2 747.6 164.2 749.5 171.2 749.3C178.3 749.1 185.8 747.7 192.1 746.2C198.3 744.6 202.8 741.8 208.7 739.9C214.6 738.0 220.9 735.8 227.4 734.7C234.0 733.7 241.3 733.7 248.3 733.7C255.2 733.7 262.8 733.9 269.1 734.7C275.3 735.6 280.2 737.0 285.7 738.9C291.3 740.8 296.8 743.2 302.4 746.2C308.0 749.1 313.5 753.1 319.1 756.6C324.6 760.1 330.2 764.5 335.7 767.4C341.3 770.4 347.2 772.9 352.4 774.3C357.6 775.7 362.4 775.9 366.9 775.7C371.5 775.6 375.3 774.5 379.4 773.7C383.6 772.8 388.0 771.6 391.9 770.8C395.8 769.9 400.9 769.0 402.8 768.7" fill="none" stroke="#C80000" stroke-width="4.2" stroke-linejoin="round" />
<path d="M149.6 757.6C152.5 758.3 161.0 761.3 167.1 761.8C173.1 762.3 179.9 761.8 185.8 760.8C191.7 759.7 196.9 757.8 202.5 755.6C208.0 753.3 213.6 749.8 219.1 747.2C224.7 744.6 229.9 741.7 235.8 739.9C241.7 738.2 247.9 737.2 254.5 736.8C261.1 736.4 268.7 736.6 275.3 737.4C281.9 738.2 287.8 739.8 294.1 741.6C300.3 743.4 306.6 746.0 312.8 748.3C319.1 750.5 325.3 752.8 331.5 754.9C337.8 757.0 344.0 759.0 350.3 760.8C356.5 762.5 363.1 764.2 369.0 765.3C374.9 766.4 380.1 766.9 385.7 767.4C391.3 768.0 399.9 768.5 402.8 768.7" fill="none" stroke="#C80000" stroke-width="4.2" stroke-linejoin="round" />
<path d="M149.6 770.1C152.1 769.3 159.6 767.0 165.0 764.9C170.3 762.8 176.1 760.4 181.6 757.6C187.2 754.9 193.1 751.2 198.3 748.3C203.5 745.3 207.7 742.3 212.9 739.9C218.1 737.6 223.6 735.5 229.5 734.1C235.4 732.7 241.7 731.9 248.3 731.6C254.9 731.4 262.8 731.9 269.1 732.7C275.3 733.4 279.8 734.6 285.7 736.2C291.6 737.8 298.2 740.0 304.5 742.0C310.7 744.0 316.6 746.3 323.2 748.3C329.8 750.3 337.1 752.2 344.0 754.1C351.0 756.0 358.3 758.0 364.9 759.7C371.5 761.5 377.3 763.0 383.6 764.5C389.9 766.0 399.6 768.0 402.8 768.7" fill="none" stroke="#C80000" stroke-width="4.2" stroke-linejoin="round" />
<path d="M149.6 777.4C151.5 777.9 156.5 780.4 160.8 780.5C165.1 780.7 170.2 779.8 175.4 778.5C180.6 777.1 186.5 774.8 192.1 772.2C197.6 769.6 203.5 766.1 208.7 762.8C213.9 759.5 218.4 755.6 223.3 752.4C228.1 749.3 232.3 746.2 237.9 744.1C243.4 742.0 250.0 740.5 256.6 739.9C263.2 739.4 270.8 740.1 277.4 741.0C284.0 741.8 289.9 743.3 296.2 745.1C302.4 747.0 308.6 749.8 314.9 752.0C321.1 754.3 327.4 756.6 333.6 758.7C339.9 760.8 346.1 762.9 352.4 764.5C358.6 766.1 365.2 767.5 371.1 768.3C377.0 769.0 382.5 769.0 387.8 769.1C393.0 769.2 400.3 768.7 402.8 768.7" fill="none" stroke="#C80000" stroke-width="4.2" stroke-linejoin="round" />
<path d="M149.6 783.7C152.1 783.8 159.6 785.0 165.0 784.7C170.3 784.4 176.1 783.3 181.6 781.6C187.2 779.8 192.7 777.2 198.3 774.3C203.8 771.3 209.7 767.4 215.0 763.9C220.2 760.4 224.7 756.6 229.5 753.5C234.4 750.3 238.5 747.1 244.1 745.1C249.7 743.2 256.6 742.2 262.8 742.0C269.1 741.8 275.7 742.9 281.6 744.1C287.5 745.3 292.7 747.3 298.2 749.3C303.8 751.3 309.3 753.9 314.9 756.2C320.4 758.5 326.0 761.2 331.5 763.3C337.1 765.3 342.7 767.4 348.2 768.7C353.8 770.0 359.3 770.8 364.9 771.2C370.4 771.5 375.2 771.2 381.5 770.8C387.8 770.3 399.2 769.0 402.8 768.7" fill="none" stroke="#C80000" stroke-width="4.2" stroke-linejoin="round" />
<path d="M149.6 805.5C152.1 806.7 160.0 811.2 165.0 812.8C170.0 814.4 174.4 815.4 179.6 814.9C184.8 814.4 190.7 812.6 196.2 809.7C201.8 806.7 207.3 801.5 212.9 797.2C218.4 792.9 224.3 787.7 229.5 783.7C234.7 779.7 239.6 776.0 244.1 773.3C248.6 770.5 252.4 768.7 256.6 767.4C260.8 766.1 264.6 765.4 269.1 765.5C273.6 765.7 278.8 766.2 283.7 768.0C288.5 769.8 293.4 773.1 298.2 776.4C303.1 779.7 308.0 784.5 312.8 787.8C317.7 791.2 322.9 794.5 327.4 796.6C331.9 798.6 335.4 800.2 339.9 800.1C344.4 800.0 350.6 797.2 354.4 796.2C358.3 795.1 360.2 794.6 362.8 793.9C365.4 793.2 367.5 794.0 370.1 792.0C372.6 790.0 375.9 784.5 378.0 782.0C380.1 779.5 380.2 778.6 382.6 777.0C384.9 775.4 389.5 773.5 392.1 772.4C394.7 771.3 396.4 771.0 398.2 770.3C399.9 769.7 402.0 768.9 402.8 768.7" fill="none" stroke="#C80000" stroke-width="4.2" stroke-linejoin="round" />
<path d="M149.6 811.8C151.8 813.3 157.9 819.1 162.9 821.1C167.9 823.2 174.0 824.4 179.6 824.3C185.1 824.1 190.7 822.9 196.2 820.1C201.8 817.3 207.3 812.1 212.9 807.6C218.4 803.1 224.0 797.5 229.5 793.0C235.1 788.5 240.3 783.7 246.2 780.5C252.1 777.4 259.0 774.8 264.9 774.3C270.8 773.8 276.4 775.2 281.6 777.4C286.8 779.7 291.3 783.7 296.2 787.8C301.0 792.0 306.2 798.1 310.7 802.4C315.2 806.7 318.7 811.0 323.2 813.8C327.7 816.7 332.6 819.4 337.8 819.5C343.0 819.6 350.3 816.0 354.4 814.5C358.6 812.9 360.2 811.7 362.8 810.2C365.4 808.8 367.5 807.9 370.1 805.7C372.6 803.5 375.9 799.4 378.0 797.1C380.1 794.8 380.2 794.4 382.6 791.9C384.9 789.4 389.5 784.8 392.1 782.0C394.7 779.3 396.4 777.8 398.2 775.6C399.9 773.3 402.0 769.8 402.8 768.7" fill="none" stroke="#C80000" stroke-width="4.2" stroke-linejoin="round" />
<path d="M149.6 819.1C151.5 820.3 156.2 824.4 160.8 826.3C165.5 828.3 171.9 830.3 177.5 830.5C183.0 830.7 188.6 829.6 194.1 827.4C199.7 825.1 205.2 821.1 210.8 817.0C216.3 812.8 221.9 807.1 227.4 802.4C233.0 797.7 238.5 792.3 244.1 788.9C249.7 785.4 255.6 782.6 260.8 781.6C266.0 780.5 270.5 781.1 275.3 782.6C280.2 784.2 285.0 787.1 289.9 790.9C294.8 794.8 300.0 801.2 304.5 805.5C309.0 809.9 312.8 813.7 317.0 817.0C321.1 820.2 325.3 823.4 329.5 824.9C333.6 826.3 337.8 826.6 342.0 825.7C346.1 824.8 351.0 821.2 354.4 819.3C357.9 817.4 360.2 816.2 362.8 814.5C365.4 812.9 367.5 811.6 370.1 809.4C372.6 807.1 375.9 803.4 378.0 801.2C380.1 798.9 380.2 798.6 382.6 795.9C384.9 793.1 389.5 787.7 392.1 784.6C394.7 781.4 396.4 779.6 398.2 777.0C399.9 774.3 402.0 770.1 402.8 768.7" fill="none" stroke="#C80000" stroke-width="4.2" stroke-linejoin="round" />
<path d="M149.6 831.5C151.5 832.1 156.2 833.8 160.8 834.7C165.5 835.5 171.9 837.1 177.5 836.8C183.0 836.4 188.6 834.8 194.1 832.6C199.7 830.3 205.2 827.0 210.8 823.2C216.3 819.4 221.9 814.0 227.4 809.7C233.0 805.3 238.9 800.4 244.1 797.2C249.3 794.0 253.8 791.2 258.7 790.3C263.5 789.5 268.4 790.1 273.3 792.0C278.1 793.8 283.3 797.9 287.8 801.4C292.3 804.8 296.2 809.3 300.3 812.8C304.5 816.3 308.3 819.6 312.8 822.2C317.3 824.8 322.5 827.5 327.4 828.4C332.2 829.4 337.4 828.9 342.0 828.0C346.5 827.1 351.0 824.8 354.4 823.1C357.9 821.4 360.2 819.7 362.8 817.9C365.4 816.1 367.5 814.5 370.1 812.2C372.6 809.9 375.9 806.5 378.0 804.3C380.1 802.1 380.2 801.9 382.6 799.0C384.9 796.0 389.5 790.1 392.1 786.6C394.7 783.1 396.4 781.0 398.2 778.0C399.9 775.1 402.0 770.2 402.8 768.7" fill="none" stroke="#C80000" stroke-width="4.2" stroke-linejoin="round" />
<path d="M149.6 837.8C153.2 837.3 162.4 835.9 171.2 834.7C180.0 833.5 192.1 831.9 202.5 830.5C212.9 829.1 223.3 827.9 233.7 826.3C244.1 824.8 254.5 823.0 264.9 821.1C275.3 819.2 287.5 816.8 296.2 814.9C304.8 813.0 310.0 811.4 317.0 809.7C323.9 808.0 331.5 806.1 337.8 804.5C344.0 802.9 350.3 801.3 354.4 800.2C358.6 799.0 360.2 798.4 362.8 797.5C365.4 796.7 367.5 797.0 370.1 795.0C372.6 793.0 375.9 787.8 378.0 785.3C380.1 782.9 380.2 782.1 382.6 780.3C384.9 778.5 389.5 776.0 392.1 774.5C394.7 773.1 396.4 772.5 398.2 771.5C399.9 770.5 402.0 769.1 402.8 768.7" fill="none" stroke="#C80000" stroke-width="4.2" stroke-linejoin="round" />
<path d="M149.6 846.1C153.2 845.9 162.4 846.1 171.2 845.1C180.0 844.0 192.1 842.0 202.5 839.9C212.9 837.8 223.3 835.0 233.7 832.6C244.1 830.2 254.5 827.6 264.9 825.3C275.3 823.0 287.5 820.4 296.2 818.6C304.8 816.8 310.0 816.0 317.0 814.5C323.9 813.0 331.5 811.3 337.8 809.7C344.0 808.1 350.3 806.1 354.4 804.8C358.6 803.4 360.2 802.6 362.8 801.6C365.4 800.5 367.5 800.5 370.1 798.5C372.6 796.4 375.9 791.5 378.0 789.1C380.1 786.7 380.2 786.1 382.6 784.0C384.9 782.0 389.5 778.8 392.1 776.9C394.7 775.1 396.4 774.2 398.2 772.8C399.9 771.4 402.0 769.4 402.8 768.7" fill="none" stroke="#C80000" stroke-width="4.2" stroke-linejoin="round" />
<path d="M149.6 870.1C152.1 868.5 159.6 863.6 165.0 860.7C170.3 857.7 175.4 855.0 181.6 852.4C187.9 849.8 195.5 847.2 202.5 845.1C209.4 843.0 216.3 841.6 223.3 839.9C230.2 838.1 237.2 836.4 244.1 834.7C251.0 832.9 258.0 831.2 264.9 829.5C271.9 827.7 278.8 825.9 285.7 824.3C292.7 822.6 299.6 820.8 306.6 819.5C313.5 818.2 321.5 817.5 327.4 816.6C333.3 815.6 337.4 815.0 342.0 813.8C346.5 812.7 351.0 810.9 354.4 809.6C357.9 808.3 360.2 807.2 362.8 805.9C365.4 804.7 367.5 804.2 370.1 802.1C372.6 800.0 375.9 795.5 378.0 793.1C380.1 790.8 380.2 790.3 382.6 788.0C384.9 785.7 389.5 781.8 392.1 779.5C394.7 777.2 396.4 776.0 398.2 774.2C399.9 772.4 402.0 769.6 402.8 768.7" fill="none" stroke="#C80000" stroke-width="4.2" stroke-linejoin="round" />
<path d="M402.7 769.7C404.1 774.1 407.9 786.7 410.9 796.1C413.8 805.5 417.4 815.7 420.4 826.1C423.3 836.5 426.1 847.4 428.6 858.7C431.1 870.0 433.6 882.8 435.4 894.1C437.2 905.5 438.5 916.8 439.5 926.8C440.5 936.8 440.9 947.0 441.4 954.0C441.8 961.0 442.1 966.1 442.2 968.5L454.5 948.6C456.8 944.8 463.6 933.2 468.1 925.5C472.6 917.8 477.2 910.2 481.7 902.3C486.2 894.3 490.8 886.2 495.3 877.8C499.8 869.4 504.4 861.0 508.9 851.9C513.4 842.8 518.0 833.1 522.5 823.4C527.0 813.6 531.6 803.8 536.1 793.4C540.6 783.0 545.2 771.8 549.7 760.7C554.2 749.6 559.3 737.0 563.4 726.7C567.5 716.5 572.4 703.8 574.2 699.2L581.0 700.8C582.1 701.7 585.4 703.6 587.9 706.3C590.4 709.0 592.8 712.0 596.0 717.2C599.2 722.4 603.3 730.4 606.9 737.6C610.5 744.9 613.7 751.9 617.8 760.7C621.9 769.6 626.9 780.7 631.4 790.7C635.9 800.7 640.5 810.6 645.0 820.6C649.5 830.6 654.1 840.5 658.6 850.6C663.1 860.8 667.8 871.4 672.3 881.5C676.8 891.6 681.0 900.7 685.9 911.0C690.8 921.3 696.3 933.2 701.5 943.5C706.7 953.8 713.7 966.7 717.2 973.0C720.7 979.3 721.8 979.8 722.7 981.2L730.8 986.6C733.1 987.3 739.9 990.7 744.4 990.7C748.9 990.7 753.5 989.1 758.0 986.6C762.5 984.1 767.2 980.7 771.7 975.7C776.2 970.7 780.8 964.0 785.3 956.7C789.8 949.5 794.4 940.6 798.9 932.2C803.4 923.8 808.0 914.9 812.5 906.3C817.0 897.7 821.6 889.4 826.1 880.5C830.6 871.6 835.2 862.3 839.7 853.2C844.2 844.1 848.8 835.5 853.3 826.0C857.8 816.5 862.4 806.1 866.9 796.1C871.4 786.1 876.0 776.4 880.5 766.2C885.0 756.0 890.0 744.1 894.1 734.8C898.2 725.5 902.0 716.4 905.0 710.4C908.0 704.4 910.7 700.6 911.8 698.6L918.6 700.8C920.0 701.9 924.1 704.6 926.8 707.6C929.5 710.6 931.8 713.3 935.0 718.5C938.2 723.7 942.3 731.4 945.9 738.9C949.5 746.4 952.6 754.3 956.7 763.4C960.8 772.5 965.8 783.2 970.3 793.4C974.8 803.6 980.1 815.6 984.0 824.7C987.9 833.8 991.9 843.9 993.5 847.8" fill="none" stroke="#C80000" stroke-width="4.5" stroke-linejoin="round" />
<path d="M402.7 997.7V650.8" fill="none" stroke="#6E6E6E" stroke-width="4.3" stroke-dasharray="36.8 38.05" stroke-linejoin="round" />
<text transform="translate(150.0 1054.8) scale(1 1.024)" font-size="57.5" text-anchor="middle">0</text>
<text transform="translate(234.1 1054.8) scale(1 1.024)" font-size="57.5" text-anchor="middle">1</text>
<text transform="translate(318.2 1054.8) scale(1 1.024)" font-size="57.5" text-anchor="middle">2</text>
<text transform="translate(402.3 1054.8) scale(1 1.024)" font-size="57.5" text-anchor="middle">3</text>
<text transform="translate(486.4 1054.8) scale(1 1.024)" font-size="57.5" text-anchor="middle">4</text>
<text transform="translate(570.5 1054.8) scale(1 1.024)" font-size="57.5" text-anchor="middle">5</text>
<text transform="translate(654.6 1054.8) scale(1 1.024)" font-size="57.5" text-anchor="middle">6</text>
<text transform="translate(738.7 1054.8) scale(1 1.024)" font-size="57.5" text-anchor="middle">7</text>
<text transform="translate(822.8 1054.8) scale(1 1.024)" font-size="57.5" text-anchor="middle">8</text>
<text transform="translate(906.9 1054.8) scale(1 1.024)" font-size="57.5" text-anchor="middle">9</text>
<text transform="translate(992.6 1054.8) scale(1 1.024)" font-size="57.5" text-anchor="middle">10</text>
<text transform="translate(124.7 666.6) scale(1 1.024)" font-size="57.5" text-anchor="end">60</text>
<text transform="translate(124.7 725.2) scale(1 1.024)" font-size="57.5" text-anchor="end">50</text>
<text transform="translate(124.7 783.8) scale(1 1.024)" font-size="57.5" text-anchor="end">40</text>
<text transform="translate(124.7 842.4) scale(1 1.024)" font-size="57.5" text-anchor="end">30</text>
<text transform="translate(124.7 901.0) scale(1 1.024)" font-size="57.5" text-anchor="end">20</text>
<text transform="translate(124.7 959.6) scale(1 1.024)" font-size="57.5" text-anchor="end">10</text>
<text transform="translate(124.7 1018.2) scale(1 1.024)" font-size="57.5" text-anchor="end">0</text>
<text x="492.8" y="1120.9" font-size="58.6" text-anchor="start"  textLength="199.62" lengthAdjust="spacingAndGlyphs">Time (s)</text>
<text transform="translate(52.1,780.9) rotate(-90)" font-size="57.5" text-anchor="middle" style="font-kerning:none">Value</text>
<rect x="633.2" y="677.3" width="248.6" height="79.4" fill="#fff" stroke="#262626" stroke-width="4.4"/>
<path d="M646.3 698.7H724" fill="none" stroke="#C80000" stroke-width="4.7" stroke-linejoin="round" />
<path d="M646.3 734.4H724" fill="none" stroke="#6E6E6E" stroke-width="4.5" stroke-dasharray="17 16.6" stroke-linejoin="round" />
<text x="160.1" y="1199.8" font-size="63.4" text-anchor="start"  textLength="550.89" lengthAdjust="spacingAndGlyphs">(c) Transient states of</text>
<text x="726.3" y="1200.8" font-size="57.0" text-anchor="start" font-family="DejaVu Serif, serif" >∇</text>
<text x="754.1" y="1220.8" font-size="28" text-anchor="start" font-style="italic"  textLength="19.85" lengthAdjust="spacingAndGlyphs">P</text>
<text x="771.9" y="1238.5" font-size="31" text-anchor="start" font-style="italic" >i</text>
<text x="790.7" y="1199.8" font-size="63.4" text-anchor="start" font-style="italic" >p</text>
<text x="824.3" y="1212.3" font-size="34.8" text-anchor="start" font-style="italic" >i</text>
<text x="850.4" y="1199.8" font-size="63.4" text-anchor="start" >(</text>
<text x="871.3" y="1199.8" font-size="63.4" text-anchor="start" font-style="italic"  textLength="41.36" lengthAdjust="spacingAndGlyphs">P</text>
<text x="909.7" y="1212.3" font-size="34.8" text-anchor="start" font-style="italic" >i</text>
<text x="918.5" y="1199.8" font-size="63.4" text-anchor="start" >,</text>
<text x="950.4" y="1199.8" font-size="63.4" text-anchor="start" font-style="italic" >t</text>
<text x="968.9" y="1199.8" font-size="63.4" text-anchor="start" >)</text>
<text x="725.7" y="710.8" font-size="29.6" text-anchor="start" font-family="DejaVu Serif, serif" >∇</text>
<text x="749.5" y="711.5" font-size="13.7" text-anchor="start" font-style="italic" >x</text>
<text x="757.4" y="711.5" font-size="13.7" text-anchor="start" font-style="italic" >i</text>
<text x="768.0" y="710.8" font-size="32" text-anchor="start" font-style="italic" >p</text>
<text x="784.7" y="711.5" font-size="14.5" text-anchor="start" font-style="italic" >i</text>
<text x="799.1" y="710.8" font-size="32" text-anchor="start" >(</text>
<text x="809.6" y="710.8" font-size="32" text-anchor="start" font-style="italic" >x</text>
<text x="824.4" y="711.5" font-size="14.5" text-anchor="start" font-style="italic" >i</text>
<text x="828.9" y="710.8" font-size="32" text-anchor="start" >,</text>
<text x="846.2" y="710.8" font-size="32" text-anchor="start" font-style="italic" >t</text>
<text x="858.1" y="710.8" font-size="32" text-anchor="start" >)</text>
<text x="727.0" y="745.1" font-size="32" text-anchor="start" font-style="italic" >t</text>
<text x="743.4" y="745.1" font-size="32" text-anchor="start"  textLength="21.94" lengthAdjust="spacingAndGlyphs">=</text>
<text x="771.4" y="745.1" font-size="32" text-anchor="start"  textLength="15.49" lengthAdjust="spacingAndGlyphs">3</text>
<rect x="1210.5" y="653.3" width="844.1" height="344.3" fill="none" stroke="#262626" stroke-width="4.7"/>
<path d="M1294.9 997.6v-10.4M1294.9 653.3v10.4M1379.3 997.6v-10.4M1379.3 653.3v10.4M1463.7 997.6v-10.4M1463.7 653.3v10.4M1548.1 997.6v-10.4M1548.1 653.3v10.4M1632.5 997.6v-10.4M1632.5 653.3v10.4M1717.0 997.6v-10.4M1717.0 653.3v10.4M1801.4 997.6v-10.4M1801.4 653.3v10.4M1885.8 997.6v-10.4M1885.8 653.3v10.4M1970.2 997.6v-10.4M1970.2 653.3v10.4M1210.5 933.2h10.4M2054.6 933.2h-10.4M1210.5 868.8h10.4M2054.6 868.8h-10.4M1210.5 804.4h10.4M2054.6 804.4h-10.4M1210.5 740.0h10.4M2054.6 740.0h-10.4M1210.5 675.6h10.4M2054.6 675.6h-10.4" stroke="#262626" stroke-width="4.3" fill="none"/>
<path d="M1505.9 997.6V653.3" fill="none" stroke="#6E6E6E" stroke-width="4.3" stroke-dasharray="37 37.9" stroke-linejoin="round" />
<path d="M1210.4 804.4C1212.6 808.6 1219.0 820.5 1223.7 829.6C1228.4 838.8 1233.6 849.9 1238.5 859.3C1243.4 868.7 1248.4 878.0 1253.3 885.9C1258.2 893.8 1263.6 901.3 1268.1 906.7C1272.5 912.1 1275.8 915.7 1280.0 918.5C1284.2 921.3 1288.8 923.6 1293.3 923.6C1297.8 923.6 1302.5 921.3 1306.7 918.5C1310.9 915.7 1314.5 911.6 1318.5 906.7C1322.5 901.8 1326.5 895.8 1330.4 888.9C1334.4 882.0 1338.2 874.1 1342.2 865.2C1346.2 856.3 1350.1 846.0 1354.1 835.6C1358.0 825.2 1362.0 814.4 1365.9 803.0C1369.9 791.6 1373.8 779.2 1377.8 767.4C1381.8 755.5 1385.6 743.2 1389.6 731.9C1393.5 720.5 1397.5 708.9 1401.5 699.3C1405.5 689.7 1409.3 680.8 1413.3 674.1C1417.2 667.4 1421.2 662.8 1425.2 659.3C1429.2 655.8 1434.0 654.4 1437.0 653.3C1440.0 652.1 1440.5 652.2 1443.0 652.4C1445.5 652.5 1448.7 652.9 1451.9 654.2C1455.1 655.5 1460.5 659.1 1462.2 660.1L1466.7 678.5C1468.2 685.9 1472.6 708.2 1475.6 723.0C1478.5 737.8 1481.7 753.1 1484.4 767.4C1487.1 781.7 1489.7 796.1 1491.9 808.9C1494.1 821.7 1496.3 834.4 1497.8 844.4C1499.3 854.4 1500.2 864.7 1500.7 868.8L1500.7 868.8L2054.6 868.8" fill="none" stroke="#0072BD" stroke-width="4.5" stroke-linejoin="round" />
<text transform="translate(1211.1 1054.8) scale(1 1.024)" font-size="57.5" text-anchor="middle">0</text>
<text transform="translate(1293.6 1054.8) scale(1 1.024)" font-size="57.5" text-anchor="middle">1</text>
<text transform="translate(1376.2 1054.8) scale(1 1.024)" font-size="57.5" text-anchor="middle">2</text>
<text transform="translate(1458.7 1054.8) scale(1 1.024)" font-size="57.5" text-anchor="middle">3</text>
<text transform="translate(1541.3 1054.8) scale(1 1.024)" font-size="57.5" text-anchor="middle">4</text>
<text transform="translate(1623.8 1054.8) scale(1 1.024)" font-size="57.5" text-anchor="middle">5</text>
<text transform="translate(1706.3 1054.8) scale(1 1.024)" font-size="57.5" text-anchor="middle">6</text>
<text transform="translate(1788.9 1054.8) scale(1 1.024)" font-size="57.5" text-anchor="middle">7</text>
<text transform="translate(1871.4 1054.8) scale(1 1.024)" font-size="57.5" text-anchor="middle">8</text>
<text transform="translate(1954.0 1054.8) scale(1 1.024)" font-size="57.5" text-anchor="middle">9</text>
<text transform="translate(2038.3 1054.8) scale(1 1.024)" font-size="57.5" text-anchor="middle">10</text>
<text transform="translate(1186.2 701.7) scale(1 1.024)" font-size="57.5" text-anchor="end">300</text>
<text transform="translate(1186.2 766.1) scale(1 1.024)" font-size="57.5" text-anchor="end">200</text>
<text transform="translate(1186.2 830.5) scale(1 1.024)" font-size="57.5" text-anchor="end">100</text>
<text transform="translate(1186.2 894.9) scale(1 1.024)" font-size="57.5" text-anchor="end">0</text>
<text transform="translate(1186.2 959.3) scale(1 1.024)" font-size="57.5" text-anchor="end">100</text>
<text x="1064.8" y="959.3" font-size="57.5" text-anchor="start"  textLength="37.93" lengthAdjust="spacingAndGlyphs">−</text>
<text transform="translate(1186.2 1023.7) scale(1 1.024)" font-size="57.5" text-anchor="end">200</text>
<text x="1064.8" y="1023.7" font-size="57.5" text-anchor="start"  textLength="37.93" lengthAdjust="spacingAndGlyphs">−</text>
<text x="1535.6" y="1121.0" font-size="58.6" text-anchor="start"  textLength="199.12" lengthAdjust="spacingAndGlyphs">Time (s)</text>
<text transform="translate(1073.7,836.0) rotate(-90)" font-size="57.5" text-anchor="middle" style="font-kerning:none">Value</text>
<rect x="1647.4" y="685.6" width="336.8" height="80.5" fill="#fff" stroke="#262626" stroke-width="4.5"/>
<path d="M1670 713.2H1747.1" fill="none" stroke="#0072BD" stroke-width="4.5" stroke-linejoin="round" />
<path d="M1670 743H1747.1" fill="none" stroke="#6E6E6E" stroke-width="4.5" stroke-dasharray="16.9 16.4" stroke-linejoin="round" />
<text x="1153.6" y="1199.3" font-size="63.4" text-anchor="start"  textLength="452.20" lengthAdjust="spacingAndGlyphs">(d) Tracking error</text>
<text x="1614.2" y="1199.3" font-size="63.4" text-anchor="start"  textLength="41.70" lengthAdjust="spacingAndGlyphs">Σ</text>
<text x="1649.7" y="1180.0" font-size="37" text-anchor="start"  textLength="32.26" lengthAdjust="spacingAndGlyphs">19</text>
<text x="1651.4" y="1212.4" font-size="37" text-anchor="start" font-style="italic" >i</text>
<text x="1667.9" y="1212.4" font-size="37" text-anchor="start"  textLength="24.24" lengthAdjust="spacingAndGlyphs">=</text>
<text x="1701.5" y="1212.4" font-size="37" text-anchor="start" >1</text>
<text x="1733.5" y="1199.3" font-size="63.4" text-anchor="start" >(</text>
<text x="1755.0" y="1199.3" font-size="63.4" text-anchor="start" font-style="italic"  textLength="42.60" lengthAdjust="spacingAndGlyphs">P</text>
<text x="1793.2" y="1212.4" font-size="34" text-anchor="start" font-style="italic" >i</text>
<text x="1811.8" y="1199.3" font-size="63.4" text-anchor="start" >(</text>
<text x="1831.8" y="1199.3" font-size="63.4" text-anchor="start" font-style="italic" >t</text>
<text x="1851.4" y="1199.3" font-size="63.4" text-anchor="start" >)</text>
<text x="1884.6" y="1199.3" font-size="63.4" text-anchor="start"  textLength="40.48" lengthAdjust="spacingAndGlyphs">−</text>
<text x="1938.6" y="1199.3" font-size="63.4" text-anchor="start" font-style="italic" >d</text>
<text x="1969.6" y="1212.4" font-size="34" text-anchor="start" font-style="italic" >i</text>
<text x="1996.5" y="1199.3" font-size="63.4" text-anchor="start" >(</text>
<text x="2015.8" y="1199.3" font-size="63.4" text-anchor="start" font-style="italic" >t</text>
<text x="2035.0" y="1199.3" font-size="63.4" text-anchor="start"  textLength="38.50" lengthAdjust="spacingAndGlyphs">))</text>
<text x="1768.8" y="719.8" font-size="23.4" text-anchor="start"  textLength="13.70" lengthAdjust="spacingAndGlyphs">Σ</text>
<text x="1781.2" y="710.0" font-size="13.2" text-anchor="start"  textLength="15.84" lengthAdjust="spacingAndGlyphs">19</text>
<text x="1782.0" y="720.4" font-size="13.2" text-anchor="start" font-style="italic" >i</text>
<text x="1787.6" y="720.4" font-size="13.2" text-anchor="start"  textLength="10.30" lengthAdjust="spacingAndGlyphs">=</text>
<text x="1801.4" y="720.4" font-size="13.2" text-anchor="start" >1</text>
<text x="1815.9" y="719.8" font-size="23.4" text-anchor="start" >(</text>
<text x="1825.0" y="719.8" font-size="23.4" text-anchor="start" font-style="italic"  textLength="14.68" lengthAdjust="spacingAndGlyphs">P</text>
<text x="1840.2" y="720.4" font-size="13.2" text-anchor="start" font-style="italic" >i</text>
<text x="1848.3" y="719.8" font-size="23.4" text-anchor="start" >(</text>
<text x="1854.1" y="719.8" font-size="23.4" text-anchor="start" font-style="italic" >t</text>
<text x="1861.6" y="719.8" font-size="23.4" text-anchor="start" >)</text>
<text x="1878.0" y="719.8" font-size="23.4" text-anchor="start"  textLength="13.94" lengthAdjust="spacingAndGlyphs">−</text>
<text x="1898.0" y="719.8" font-size="23.4" text-anchor="start" font-style="italic" >d</text>
<text x="1910.5" y="720.4" font-size="13.2" text-anchor="start" font-style="italic" >i</text>
<text x="1920.9" y="719.8" font-size="23.4" text-anchor="start" >(</text>
<text x="1928.0" y="719.8" font-size="23.4" text-anchor="start" font-style="italic" >t</text>
<text x="1935.5" y="719.8" font-size="23.4" text-anchor="start"  textLength="16.82" lengthAdjust="spacingAndGlyphs">))</text>
<text x="1769.6" y="751.0" font-size="23.7" text-anchor="start" font-style="italic" >t</text>
<text x="1780.8" y="751.0" font-size="23.7" text-anchor="start"  textLength="16.12" lengthAdjust="spacingAndGlyphs">=</text>
<text x="1801.7" y="751.0" font-size="23.7" text-anchor="start"  textLength="31.27" lengthAdjust="spacingAndGlyphs">3.5</text>
</svg>
</body></html>
